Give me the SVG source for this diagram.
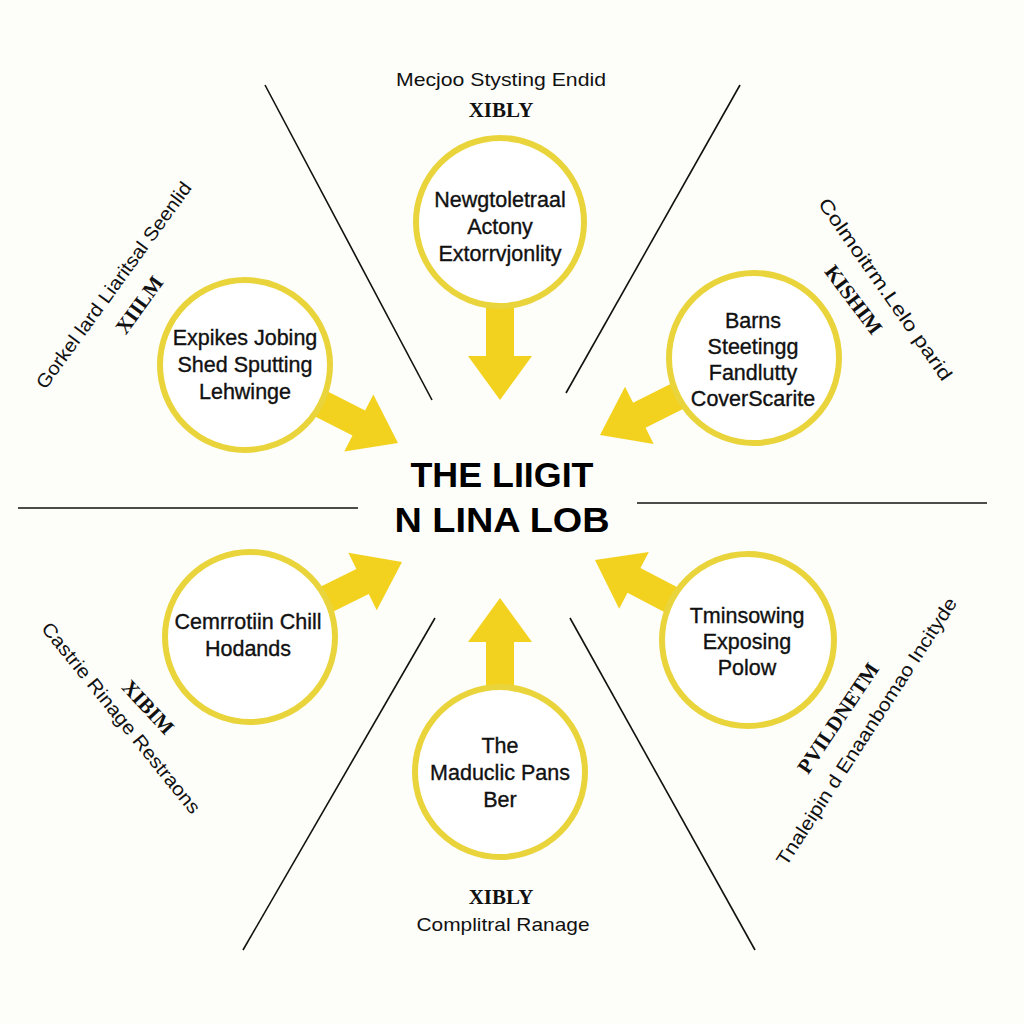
<svg xmlns="http://www.w3.org/2000/svg" xmlns:xlink="http://www.w3.org/1999/xlink" width="1024" height="1024" viewBox="0 0 1024 1024">
<style>
.bg{fill:#fdfdf9}
.div{stroke:#111;stroke-width:1.6;fill:none}
.ring{fill:#fff;stroke:#e9d43c;stroke-width:6}
.arrow{fill:#f3d21f}
.lbl{font-family:"Liberation Sans",Arial,sans-serif;font-size:21.5px;fill:#111;stroke:#111;stroke-width:0.35;text-anchor:middle}
.side{font-family:"Liberation Sans",Arial,sans-serif;font-size:19px;fill:#111;text-anchor:middle}
.code{font-family:"Liberation Serif","Times New Roman",serif;font-size:21px;font-weight:bold;fill:#111;text-anchor:middle}
.title{font-family:"Liberation Sans",Arial,sans-serif;font-size:35px;font-weight:bold;fill:#000;text-anchor:middle}
</style>
<defs>
<path id="arr" d="M0,0 L-44,-32 L-44,-14 L-150,-14 L-150,14 L-44,14 L-44,32 Z"/>
</defs>
<rect class="bg" x="0" y="0" width="1024" height="1024"/>
<g id="dividers">
<line class="div" x1="265" y1="85" x2="432" y2="400"/>
<line class="div" x1="740" y1="85" x2="566" y2="393"/>
<line class="div" x1="18" y1="508" x2="358" y2="508"/>
<line class="div" x1="637" y1="503" x2="987" y2="503"/>
<line class="div" x1="435" y1="618" x2="243" y2="950"/>
<line class="div" x1="570" y1="618" x2="755" y2="950"/>
</g>
<g id="connectors">
<use class="arrow" href="#arr" transform="translate(500,400) rotate(90)"/>
<use class="arrow" href="#arr" transform="translate(398,443) rotate(27)"/>
<use class="arrow" href="#arr" transform="translate(600,435) rotate(153.4)"/>
<use class="arrow" href="#arr" transform="translate(402,562) rotate(-26.3)"/>
<use class="arrow" href="#arr" transform="translate(595,560) rotate(207.6)"/>
<use class="arrow" href="#arr" transform="translate(500,598) rotate(-90)"/>
</g>
<g id="node-top">
<circle class="ring" cx="500" cy="222" r="84"/>
<text class="lbl" x="500" y="207">Newgtoletraal</text>
<text class="lbl" x="500" y="234">Actony</text>
<text class="lbl" x="500" y="261">Extorrvjonlity</text>
</g>
<g id="node-upper-left">
<circle class="ring" cx="245" cy="365" r="85"/>
<text class="lbl" x="245" y="345">Expikes Jobing</text>
<text class="lbl" x="245" y="372">Shed Sputting</text>
<text class="lbl" x="245" y="399">Lehwinge</text>
</g>
<g id="node-upper-right">
<circle class="ring" cx="754" cy="358" r="85"/>
<text class="lbl" x="753" y="328">Barns</text>
<text class="lbl" x="753" y="354">Steetingg</text>
<text class="lbl" x="753" y="380">Fandlutty</text>
<text class="lbl" x="753" y="406">CoverScarite</text>
</g>
<g id="node-lower-left">
<circle class="ring" cx="250" cy="637" r="85"/>
<text class="lbl" x="248" y="629">Cemrrotiin Chill</text>
<text class="lbl" x="248" y="656">Hodands</text>
</g>
<g id="node-lower-right">
<circle class="ring" cx="748" cy="640" r="86"/>
<text class="lbl" x="747" y="623">Tminsowing</text>
<text class="lbl" x="747" y="649">Exposing</text>
<text class="lbl" x="747" y="675">Polow</text>
</g>
<g id="node-bottom">
<circle class="ring" cx="500" cy="772" r="85"/>
<text class="lbl" x="500" y="753">The</text>
<text class="lbl" x="500" y="780">Maduclic Pans</text>
<text class="lbl" x="500" y="807">Ber</text>
</g>
<g id="center">
<text class="title" x="502" y="487" textLength="183" lengthAdjust="spacingAndGlyphs">THE LIIGIT</text>
<text class="title" x="502" y="532" textLength="215" lengthAdjust="spacingAndGlyphs">N LINA LOB</text>
</g>
<g id="labels">
<text class="side" x="501" y="86" textLength="210" lengthAdjust="spacingAndGlyphs">Mecjoo Stysting Endid</text>
<text class="code" x="501" y="117">XIBLY</text>
<text class="code" x="501" y="904">XIBLY</text>
<text class="side" x="503" y="931" textLength="173" lengthAdjust="spacingAndGlyphs">Complitral Ranage</text>
<text class="side" transform="translate(119,289) rotate(-54)" x="0" y="0" textLength="250" lengthAdjust="spacingAndGlyphs">Gorkel lard Liaritsal Seenlid</text>
<text class="code" transform="translate(145,309) rotate(-54)" x="0" y="0">XIILM</text>
<text class="side" transform="translate(880,293) rotate(55)" x="0" y="0" textLength="218" lengthAdjust="spacingAndGlyphs">Colmoitrm.Lelo parid</text>
<text class="code" transform="translate(848,304) rotate(53)" x="0" y="0">KISHIM</text>
<text class="side" transform="translate(116,722) rotate(51)" x="0" y="0" textLength="240" lengthAdjust="spacingAndGlyphs">Castrie Rinage Restraons</text>
<text class="code" transform="translate(143,712) rotate(47)" x="0" y="0">XIBIM</text>
<text class="side" transform="translate(872,735) rotate(-57)" x="0" y="0" textLength="315" lengthAdjust="spacingAndGlyphs">Tnaleipin d Enaanbomao Incityde</text>
<text class="code" transform="translate(844,722) rotate(-56)" x="0" y="0">PVILDNETM</text>
</g>
</svg>
